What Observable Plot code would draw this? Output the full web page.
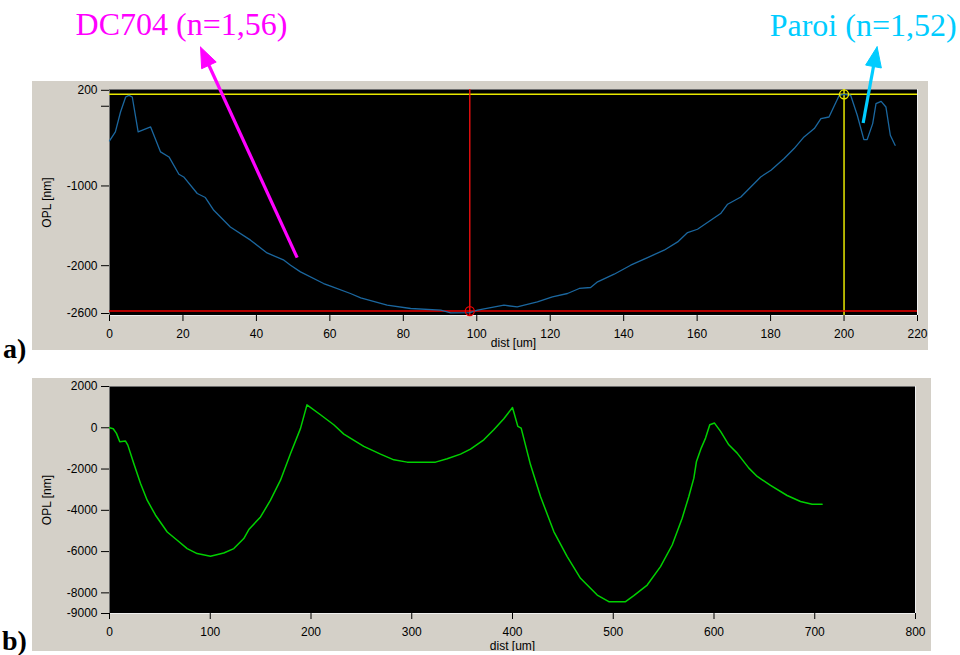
<!DOCTYPE html>
<html>
<head>
<meta charset="utf-8">
<script src="https://cdn.jsdelivr.net/npm/d3@7"></script>
<script src="https://cdn.jsdelivr.net/npm/@observablehq/plot@0.6"></script>
<style>
  html, body { margin: 0; padding: 0; background: #fff; }
  #page { position: relative; width: 960px; height: 655px; overflow: hidden; background: #fff; }
  .gray { position: absolute; background: #d4d0c8; }
  .panel { position: absolute; left: 0; }
  .tag { position: absolute; font-family: "Liberation Serif", "Times New Roman", serif; font-weight: bold; font-size: 28px; line-height: 1; color: #000; }
</style>
</head>
<body>
<div id="page">
  <div class="gray" style="left:32px;top:81px;width:896px;height:269px"></div>
  <div class="gray" style="left:32px;top:378px;width:899px;height:273px"></div>
  <div id="pa" class="panel" style="top:0px"></div>
  <div id="pb" class="panel" style="top:378px"></div>
  <div class="tag" style="left:3px;top:335px">a)</div>
  <div class="tag" style="left:2px;top:627px">b)</div>
</div>
<script>
// ---------- data : panel a ----------
const distA = [0, 1.6, 3.0, 4.4, 5.3, 6.2, 7.8, 11.2, 13.9, 16.2, 18.9, 20.2, 23.9, 26.1, 28.4, 32.9, 38.4, 42.9, 47.5, 49.3, 52.0, 58.3, 60.2, 65.6, 68.4, 75.6, 82, 90.2, 92.9, 98.1, 100.2, 107.4, 111, 116.5, 120.6, 124.7, 127.9, 131, 132.9, 137.4, 141.9, 146.5, 151, 154.7, 157.4, 160.1, 163.7, 166.4, 168.3, 171.9, 177.3, 180.1, 183.7, 186.4, 189.1, 191.9, 193.7, 195.9, 198.7, 200, 201.8, 203.6, 205.4, 206.3, 207.8, 208.7, 210.1, 211.4, 212.6, 213.9];
const oplA = [-435, -322, -72, 116, 137, 116, -322, -260, -573, -636, -853, -887, -1095, -1145, -1305, -1514, -1680, -1840, -1931, -1994, -2078, -2224, -2257, -2349, -2404, -2496, -2537, -2558, -2592, -2590, -2558, -2496, -2517, -2454, -2391, -2349, -2286, -2274, -2203, -2107, -1994, -1898, -1806, -1702, -1584, -1543, -1430, -1346, -1229, -1138, -887, -803, -656, -531, -385, -280, -155, -135, 137, 150, 137, -113, -418, -418, -218, 32, 62, -9, -364, -490];
const xTicksA = [0, 20, 40, 60, 80, 100, 120, 140, 160, 180, 200, 220];
const yTicksA = [200, 0, -1000, -2000, -2600];
const cursorRed = { dist: 98.1, opl: -2570 };
const cursorYellow = { dist: 200, opl: 150 };

// annotations (panel a, data coordinates)
const noteText = ["DC704 (n=1,56)", "Paroi (n=1,52)"];
const noteDist = [19.6, 205.2];
const noteOpl = [892, 879];
const noteColor = ["#ff00ff", "#00ccff"];
const arrowTail = [[51.1, -1900], [205.2, -210]];
const arrowTip = [[24.8, 741], [209.0, 745]];

// ---------- data : panel b ----------
const distB = [0, 3.7, 6.9, 10.2, 15.9, 18.2, 24.1, 30.8, 37.4, 45.7, 57.3, 67.2, 77.1, 87, 100.2, 113.4, 123.4, 133.3, 138.3, 149.9, 159.8, 169.7, 179.7, 189.6, 196, 209.4, 222.6, 232.6, 252.4, 269, 282.2, 295.5, 323.6, 335.2, 348.4, 358.3, 371.5, 381.4, 391.4, 400, 405.3, 408.6, 417.9, 427.8, 441, 454.3, 467.5, 484.1, 495.6, 512.2, 520.4, 533.7, 546.9, 558.5, 568.4, 575, 580, 582.6, 587.3, 591.6, 595.8, 600.5, 606.5, 614.7, 623, 634.6, 642.9, 656.1, 672.6, 685.9, 697.4, 707.3];
const oplB = [0, -48, -272, -680, -645, -840, -1728, -2700, -3510, -4238, -5049, -5451, -5854, -6097, -6228, -6068, -5854, -5369, -4932, -4320, -3510, -2539, -1243, -29, 1110, 631, 146, -306, -903, -1277, -1553, -1665, -1665, -1505, -1277, -1034, -583, -97, 437, 980, 68, -15, -1796, -3330, -5029, -6243, -7296, -8107, -8427, -8427, -8136, -7621, -6728, -5680, -4383, -3330, -2442, -1631, -985, -500, 146, 228, -175, -825, -1228, -1956, -2359, -2796, -3282, -3573, -3704, -3704];
const xTicksB = [0, 100, 200, 300, 400, 500, 600, 700, 800];
const yTicksB = [2000, 0, -2000, -4000, -6000, -8000, -9000];

// ---------- layout ----------
const W = 960;
const LA = { h: 350, mt: 89, mb: 35, ml: 109, mr: 43, xd: [0, 220], yd: [-2625, 210] };
const LB = { h: 273, mt: 8, mb: 38, ml: 109, mr: 45, xd: [0, 800], yd: [-9000, 2000] };

const sans = "'Liberation Sans', Arial, sans-serif";
const serif = "'Liberation Serif', 'Times New Roman', serif";
const baseStyle = { background: "transparent", overflow: "hidden", fontFamily: sans, fontSize: "12px", color: "#000" };

// arrow geometry (head as filled triangle), computed through scales equal to the plot's
const sxA = d3.scaleLinear(LA.xd, [LA.ml, W - LA.mr]);
const syA = d3.scaleLinear(LA.yd, [LA.h - LA.mb, LA.mt]);
const shafts = [], heads = [];
arrowTail.forEach((t, i) => {
  const x1 = sxA(t[0]), y1 = syA(t[1]);
  const x2 = sxA(arrowTip[i][0]), y2 = syA(arrowTip[i][1]);
  const L = Math.hypot(x2 - x1, y2 - y1), ux = (x2 - x1) / L, uy = (y2 - y1) / L;
  const len = 20, half = 8;
  const bx = x2 - ux * len, by = y2 - uy * len;
  shafts.push({ k: i, x1: t[0], y1: t[1], x2: sxA.invert(bx + ux * 2), y2: syA.invert(by + uy * 2) });
  [[x2, y2], [bx - uy * half, by + ux * half], [bx + uy * half, by - ux * half], [x2, y2]]
    .forEach(([px, py]) => heads.push({ k: i, x: sxA.invert(px), y: syA.invert(py) }));
});

const rowsA = distA.map((d, i) => ({ dist: d, opl: oplA[i] }));
const rowsB = distB.map((d, i) => ({ dist: d, opl: oplB[i] }));

const axisOpts = { tickSize: 8, tickPadding: 4, fontSize: 12 };
const xAxisOpts = { tickSize: 6, tickPadding: 8, fontSize: 12 };

const plotA = Plot.plot({
  width: W, height: LA.h,
  marginTop: LA.mt, marginBottom: LA.mb, marginLeft: LA.ml, marginRight: LA.mr,
  style: baseStyle,
  x: { domain: LA.xd },
  y: { domain: LA.yd },
  marks: [
    Plot.frame({ fill: "#000", stroke: "#6e6e6e" }),
    Plot.ruleX([LA.xd[1]], { stroke: "#f0f0f0" }),
    Plot.ruleY([LA.yd[0]], { stroke: "#f0f0f0" }),
    Plot.ruleY([cursorYellow.opl], { stroke: "#e8e800", strokeWidth: 1.5 }),
    Plot.ruleX([cursorYellow.dist], { stroke: "#e8e800", strokeWidth: 1.5 }),
    Plot.ruleY([cursorRed.opl], { stroke: "#ee0000", strokeWidth: 1.5 }),
    Plot.ruleX([cursorRed.dist], { stroke: "#ff1010", strokeWidth: 1.3 }),
    Plot.line(rowsA, { x: "dist", y: "opl", stroke: "#1b679f", strokeWidth: 1.3 }),
    Plot.dot([cursorRed], { x: "dist", y: "opl", r: 4.5, stroke: "#ee0000", fill: "none", strokeWidth: 1.3 }),
    Plot.dot([cursorYellow], { x: "dist", y: "opl", r: 4.5, stroke: "#e8e800", fill: "none", strokeWidth: 1.3 }),
    Plot.axisY({ ticks: yTicksA, tickFormat: d => d === 0 ? "" : String(d), ...axisOpts,
      label: "OPL [nm]", labelAnchor: "center", labelOffset: 67, labelArrow: "none" }),
    Plot.axisX({ ticks: xTicksA, tickFormat: d => String(d), ...xAxisOpts,
      label: "dist [um]", labelAnchor: "center", labelOffset: 31, labelArrow: "none" }),
    Plot.link(shafts.filter(s => s.k === 0), { x1: "x1", y1: "y1", x2: "x2", y2: "y2", stroke: noteColor[0], strokeWidth: 3.2 }),
    Plot.link(shafts.filter(s => s.k === 1), { x1: "x1", y1: "y1", x2: "x2", y2: "y2", stroke: noteColor[1], strokeWidth: 3.2 }),
    Plot.line(heads.filter(h => h.k === 0), { x: "x", y: "y", fill: noteColor[0], stroke: noteColor[0], strokeWidth: 1 }),
    Plot.line(heads.filter(h => h.k === 1), { x: "x", y: "y", fill: noteColor[1], stroke: noteColor[1], strokeWidth: 1 }),
    Plot.text([noteText[0]], { x: [noteDist[0]], y: [noteOpl[0]], text: d => d, fill: noteColor[0], lineAnchor: "bottom", fontSize: 32, fontFamily: serif }),
    Plot.text([noteText[1]], { x: [noteDist[1]], y: [noteOpl[1]], text: d => d, fill: noteColor[1], lineAnchor: "bottom", fontSize: 32, fontFamily: serif })
  ]
});
document.getElementById("pa").appendChild(plotA);

const plotB = Plot.plot({
  width: W, height: LB.h,
  marginTop: LB.mt, marginBottom: LB.mb, marginLeft: LB.ml, marginRight: LB.mr,
  style: baseStyle,
  x: { domain: LB.xd },
  y: { domain: LB.yd },
  marks: [
    Plot.frame({ fill: "#000", stroke: "#6e6e6e" }),
    Plot.ruleX([LB.xd[1]], { stroke: "#f0f0f0" }),
    Plot.ruleY([LB.yd[0]], { stroke: "#f0f0f0" }),
    Plot.line(rowsB, { x: "dist", y: "opl", stroke: "#00d000", strokeWidth: 1.5 }),
    Plot.axisY({ ticks: yTicksB, tickFormat: d => String(d), ...axisOpts,
      label: "OPL [nm]", labelAnchor: "center", labelOffset: 67, labelArrow: "none" }),
    Plot.axisX({ ticks: xTicksB, tickFormat: d => String(d), ...xAxisOpts,
      label: "dist [um]", labelAnchor: "center", labelOffset: 36, labelArrow: "none" })
  ]
});
document.getElementById("pb").appendChild(plotB);
</script>
</body>
</html>
